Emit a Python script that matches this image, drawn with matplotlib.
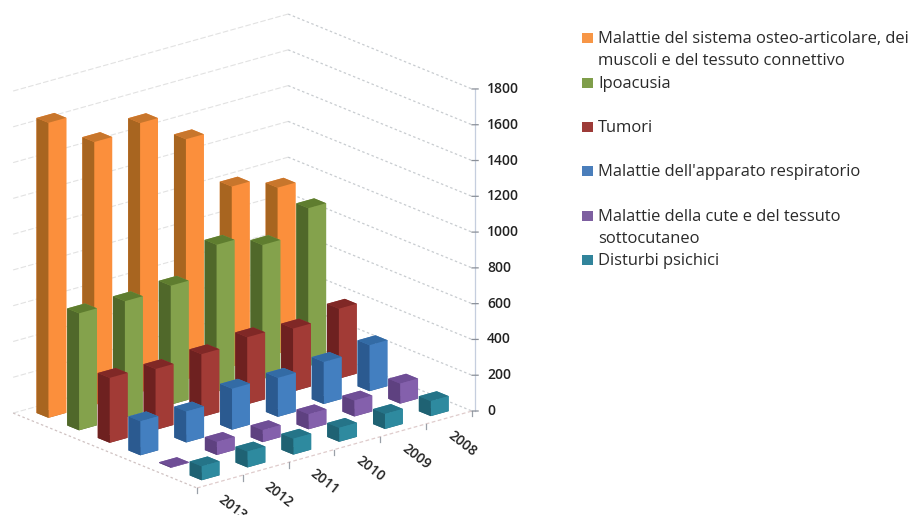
import matplotlib
matplotlib.use('Agg')
import matplotlib.pyplot as plt
from matplotlib.patches import Rectangle
from mpl_toolkits.mplot3d import proj3d

# data, front to back along the year axis
years = ['2013', '2012', '2011', '2010', '2009', '2008']
osteo = [1649, 1470, 1504, 1342, 1006, 928]
ipoacusia = [654, 650, 665, 822, 749, 883]
tumori = [363, 341, 352, 375, 352, 391]
respiratorio = [190, 173, 229, 218, 235, 257]
cute = [4, 73, 67, 84, 89, 112]
psichici = [78, 89, 89, 78, 84, 84]
z_ticks = [0, 200, 400, 600, 800, 1000, 1200, 1400, 1600, 1800]

# front, side, top colour, back series first
series = [
    (osteo, '#FB8F3C', '#A86520', '#C8762C'),
    (ipoacusia, '#84A24C', '#50682A', '#5F7D2F'),
    (tumori, '#A23B36', '#6E2120', '#802826'),
    (respiratorio, '#437FC0', '#2B5A90', '#336BA5'),
    (cute, '#8460AC', '#5E4180', '#6F4E96'),
    (psichici, '#2E8A9F', '#1F6273', '#257488'),
]

# label lines: text, y in pixels, square colour or None for a wrapped line
legend_rows = [
    ('Malattie del sistema osteo-articolare, dei', 38, '#F79646'),
    ('muscoli e del tessuto connettivo', 60, None),
    ('Ipoacusia', 83, '#7F9E4A'),
    ('Tumori', 127, '#9D3B38'),
    ("Malattie dell'apparato respiratorio", 171, '#4A7EBB'),
    ('Malattie della cute e del tessuto', 216, '#7D5FA0'),
    ('sottocutaneo', 238, None),
    ('Disturbi psichici', 260, '#31849B'),
]

W, H = 913, 515
FONT = 'Open Sans'
bar_w = 0.39

fig = plt.figure(figsize=(W / 100, H / 100), dpi=100)
ax = fig.add_axes([0, 0, 1, 1], projection='3d', proj_type='ortho')
ax.computed_zorder = False
ax.view_init(elev=19.74, azim=-129.65)
ax.set_box_aspect((357, 288, 342))
ax.set_axis_off()

# walls, gridlines every 200
for z in z_ticks:
    ax.plot([0, 6], [6, 6], [z, z], color='#e2e2e2', lw=0.8, ls=(0, (5, 2)), zorder=1)
    ax.plot([6, 6], [6, 0], [z, z], color='#c8ccd0', lw=0.9, ls=(0, (2, 2)), zorder=1)
# floor edges
ax.plot([0, 0], [6, 0], [0, 0], color='#cfc2c2', lw=0.9, ls=(0, (2, 2)), zorder=1)
ax.plot([0, 6], [0, 0], [0, 0], color='#dfcccc', lw=0.9, ls=(0, (3, 2)), zorder=1)

# painter's order: back series first, 2008 first inside each series
zo = 10
for s, (values, front, side, top) in enumerate(series):
    y0 = 5.5 - s - bar_w / 2
    for c in range(len(years) - 1, -1, -1):
        # faces: -Z, +Z, -Y, +Y, -X, +X
        ax.bar3d(c + 0.5 - bar_w / 2, y0, 0, bar_w, bar_w, values[c],
                 color=[side, top, front, front, side, front],
                 shade=False, edgecolor='none', zorder=zo)
        zo += 1

# year axis ticks
for c in range(7):
    ax.plot([c, c], [0, 0], [0, -30], color='#9aa0a8', lw=0.9, zorder=5)

# value axis, at the right corner
ax.plot([6.04, 6.04], [-0.04, -0.04], [0, 1800], color='#c5cede', lw=0.9, zorder=5)
for z in z_ticks:
    ax.plot([6, 6.08], [0, -0.08], [z, z], color='#8a8f98', lw=0.9, zorder=5)

ax.set_xlim(0, 6)
ax.set_ylim(0, 6)
ax.set_zlim(0, 1800)


def to_px(x, y, z):
    X, Y, _ = proj3d.proj_transform(x, y, z, ax.get_proj())
    return ax.transData.transform((X, Y))


# place the box so its floor corners land where they are in the picture
side = 900.0
ax.set_position([0, 0, side / W, side / H])
fig.canvas.draw()
front_px = to_px(0, 0, 0)
right_px = to_px(6, 0, 0)
scale = 275.0 / (right_px[0] - front_px[0])
side = side * scale
left = 197 - front_px[0] * scale
bottom = (H - 488) - front_px[1] * scale
ax.set_position([left / W, bottom / H, side / W, side / H])
fig.canvas.draw()

# axis labels go on as plain figure text, placed from the projected positions
for c, year in enumerate(years):
    px = to_px(c + 0.5, 0, 0)
    fig.text((px[0] + 13) / W, (px[1] - 26) / H, year, rotation=-38, rotation_mode='anchor',
             ha='center', va='center', family=FONT, weight='semibold', fontsize=10,
             color='#222222')
for z in z_ticks:
    px = to_px(6, 0, z)
    fig.text((px[0] + 15) / W, px[1] / H, str(z), ha='left', va='center',
             family=FONT, weight='semibold', fontsize=10, color='#222222')

# legend
for text, y, colour in legend_rows:
    fig.text(598 / W, 1 - (y + 0.8) / H, text, ha='left', va='center', family=FONT,
             fontsize=11.85, color='#2a2a2a')
    if colour:
        fig.add_artist(Rectangle((582 / W, 1 - (y + 5) / H), 11 / W, 10 / H,
                                 transform=fig.transFigure, facecolor=colour,
                                 edgecolor='none'))

fig.savefig('out.png', dpi=100)
